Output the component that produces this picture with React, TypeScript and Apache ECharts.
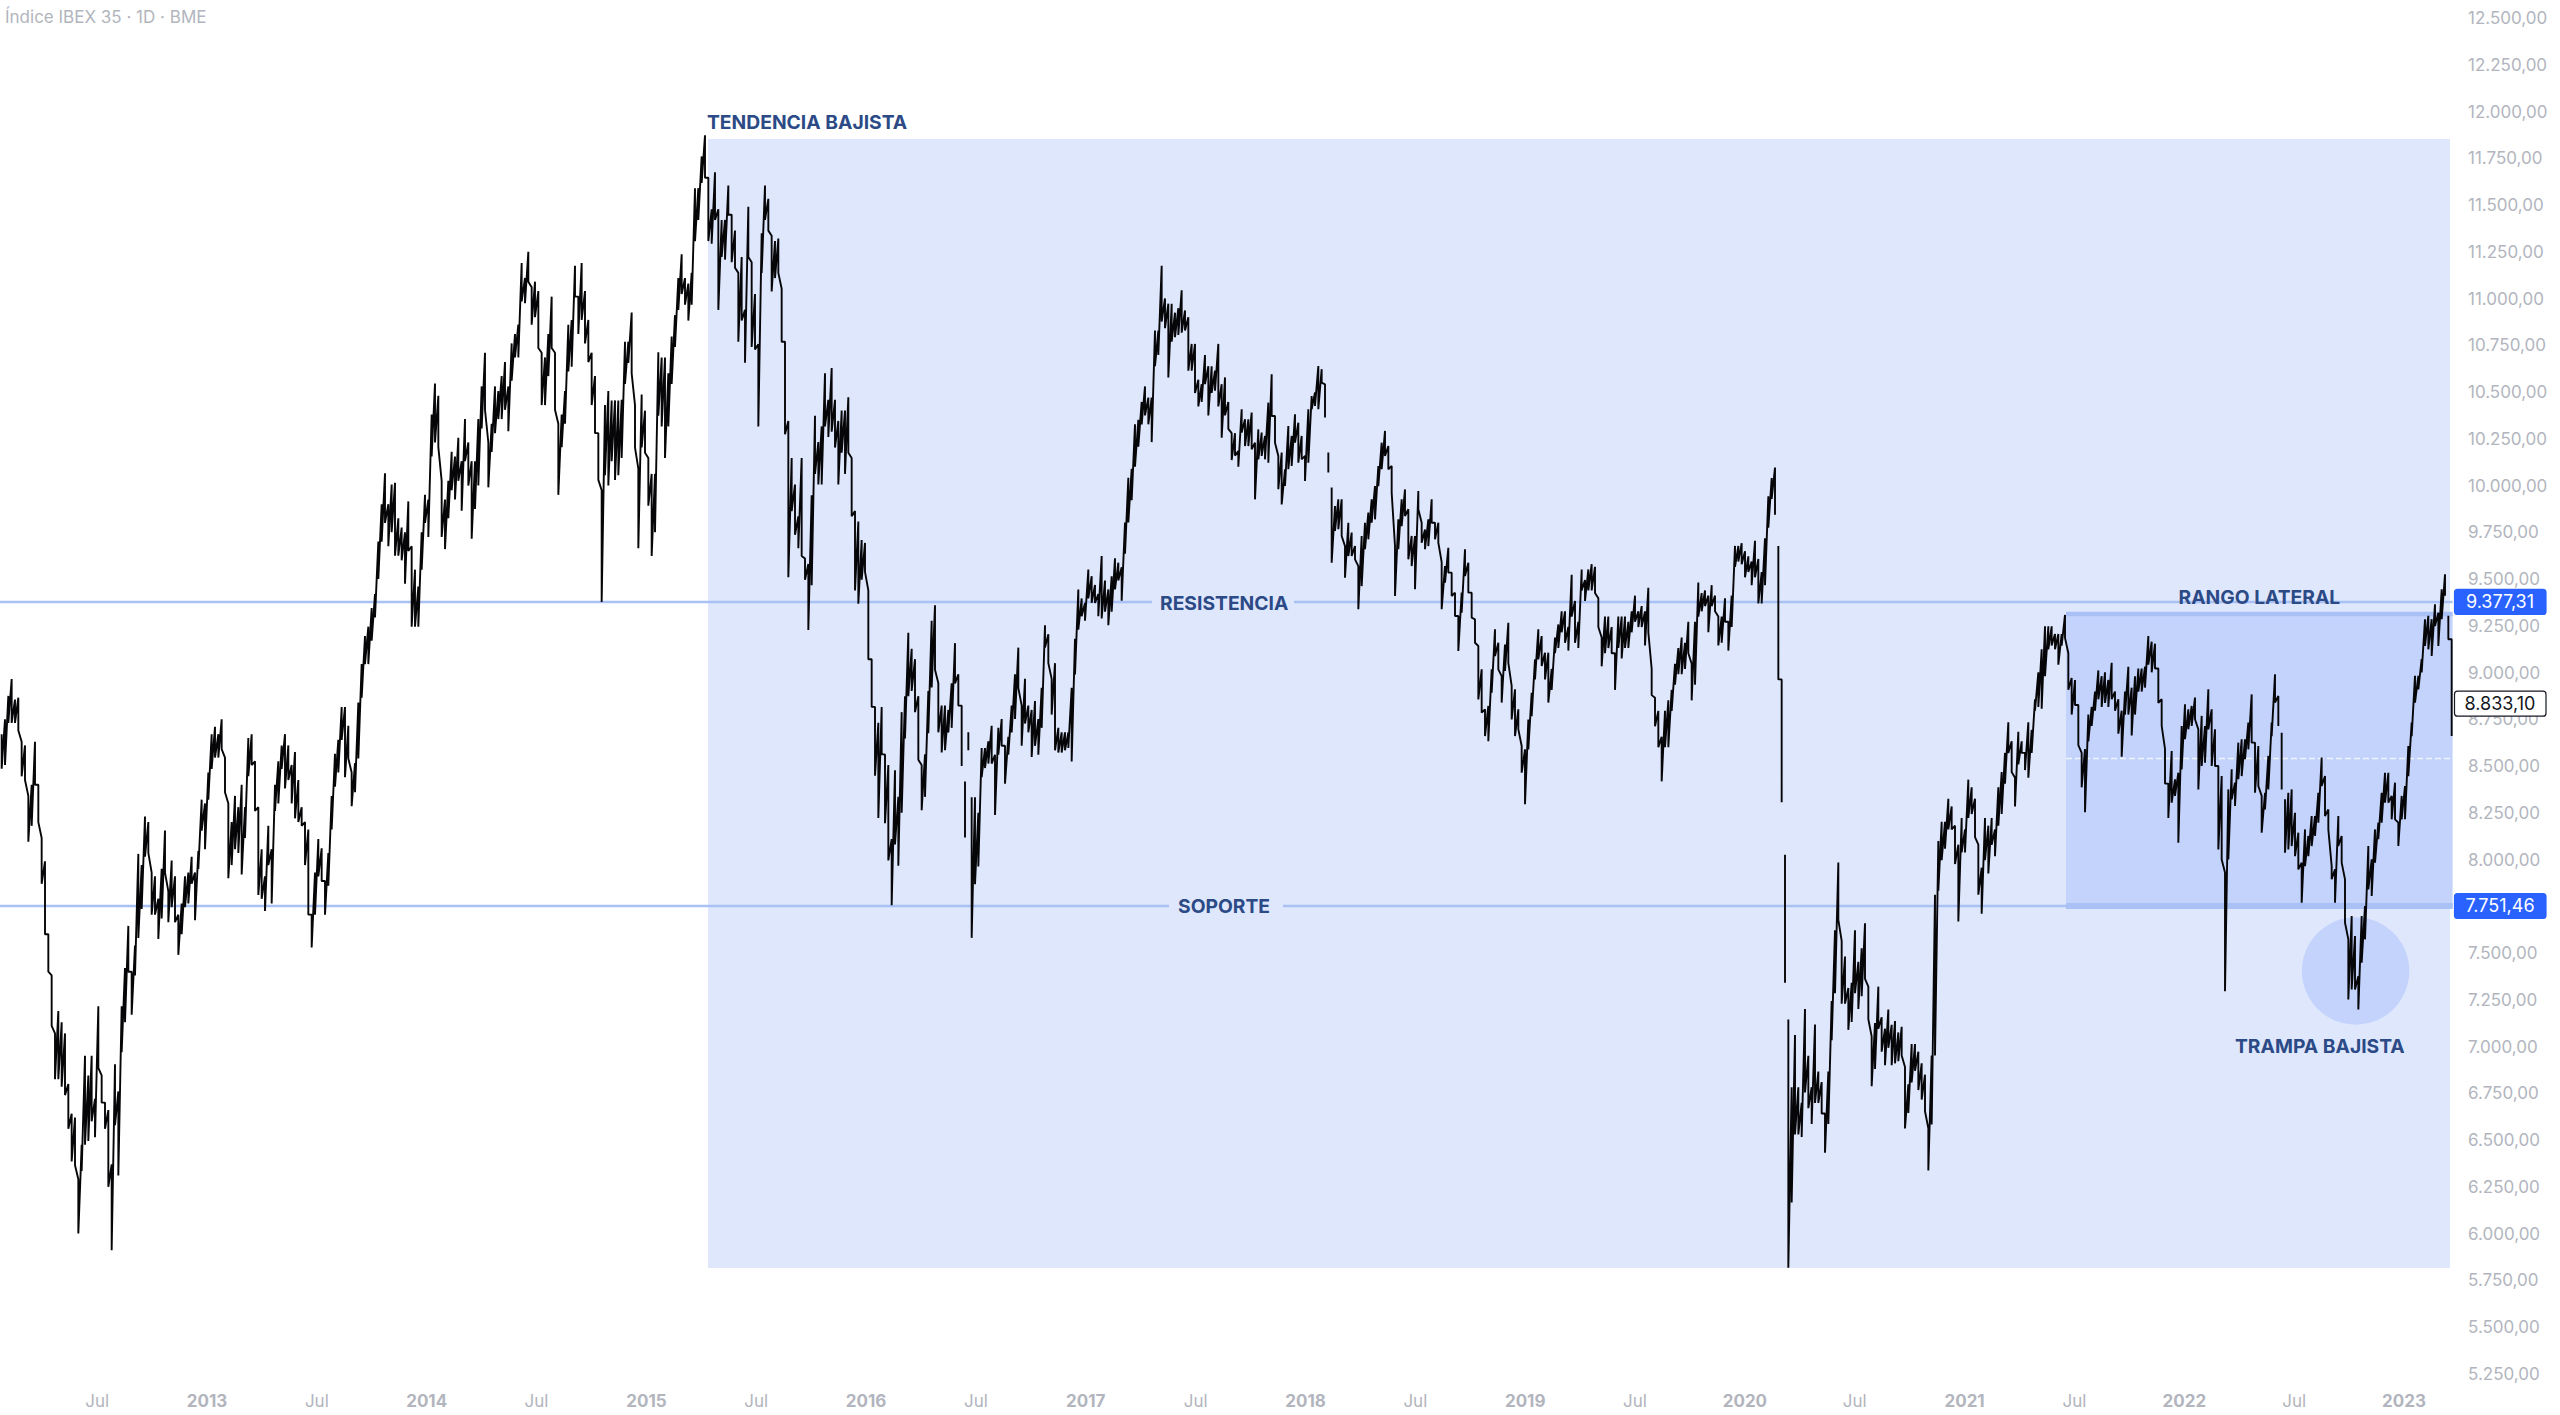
import React, { useEffect, useRef } from "react";
import * as echarts from "echarts";

// Sesiones muestreadas en tramos consecutivos: pares máximo, mínimo. null = hueco en el gráfico.
const tramo1 = [8670,8485,8750,8505,8875,8730,8965,8730,8855,8730,8865,8690,8630,8445,8610,8425,8340,8095,8400,8180,8630,8400,8400,8200,8115,7870,7990,7600,7600,7400,7380,7110,7070,6825,7190,6825,7130,6785,7070,6740,6800,6560,6640,6385,6620,6365,6290,6000,6475,6335,6950,6475,6845,6495,6950,6600,6720,6515,7215,6885,6845,6700,6700,6560,6660,6250,6370,5910,6905,6580,6760,6310,7215,6970,7420,7130,7645,7400,7400,7170,7540,7380,8030,7580,7970,7735,8230,8015,8200,8035,7930,7705,7910,7705,7790,7575,7950,7685,8155,7930,7830,7665,7995,7745,7910,7665,7705,7490,7765,7600,7910,7745,7930,7765,8015,7870,7930,7675,8045,7950,8320,8155,8300,8055,8465,8320,8670,8485,8710,8545,8670,8545,8750,8590,8545,8360,8300,7900,8200,7970,8340,8055,8280,8035,8400,7920,8280,8115,8650,8445,8670,8505,8525,8260,8280,7810,8055,7790,7910,7725,8180,7970,8055,7765,8400,8260,8525,8300,8610,8485,8670,8380,8610,8425,8505,8300,8575,8220,8425,8200,8280,8180,8200,7970,8160,7705];
const tramo2 = [7705,7530,7930,7705,8110,7910,8060,7885,7885,7705,8035,7860,8340,8160,8565,8390,8640,8465,8815,8640,8815,8440,8715,8540,8465,8285,8515,8360,8840,8540,9045,8865,9195,9045,9245,9045,9345,9170,9420,9295,9700,9500,9900,9700,10065,9800,9900,9675,10005,9750,10015,9625,9825,9625,9775,9600,9750,9475,9915,9650,9675,9245,9550,9245,9460,9245,9750,9550,9950,9800,9925,9725,10380,10155,10545,10230,10480,10205,10025,9725,9925,9660,10025,9825,10180,9975,10155,9925,10255,10025,10130,9865,10355,10130,10230,10000,10130,9715,10130,9875,10355,10000,10530,10305,10710,10405,10230,9990,10330,10180,10530,10280,10505,10355,10585,10355,10660,10405,10530,10290,10760,10560,10810,10685,10860,10685,11190,10985,11110,10975,11250,11090,11060,10860,11090,10900,11040,10735,10710,10430,10685,10430,10810,10585,11010,10735,10710,10405,10330,9950,10380,10205,10505,10330,10860,10610,10885,10635,11175,11010,11010,10810,11190,10885,11040,10760,10885,10660,10710,10430,10585,10280,10280,10030,9975,9377,10430,10055,10505,10000,10455,10130,10455,10030,10455,10055];
const tramo3 = [10458,10147,10769,10543,10769,10656,10925,10600,10430,10203,10090,9665,10486,10203,10400,10175,10147,9892,10062,9623,10062,9750,10712,10373,10684,10316,10684,10147,10600,10316,10797,10543,10911,10741,11109,10939,11236,11024,11109,10967,11080,10882,11137,10967,11590,11307,11590,11420,11760,11618,11873,11646,11646,11307,11477,11293,11675,11420,11477,10939,11420,11222,11420,11208,11604,11448,11448,11194,11363,11165,11137,10769,11222,10882,10939,10656,11491,11222,11194,10741,11024,10727,10755,10316,11349,11137,11604,11420,11533,11363,11335,11038,11307,11109,11321,11137,11052,10769,10769,10274,10345,9510,10147,9863,10005,9736,9835,9665,10147,9623,9609,9496,9580,9227,9948,9467,10373,10062,10232,10005,10316,10005,10600,10316,10458,10260,10628,10288,10458,10203,10345,10005,10401,10175,10401,10062,10472,10175,10147,9835,9863,9439,9807,9368,9708,9496,9693,9538,9439,9071,9071,8816,8816,8448,8731,8222,8816,8562,8562,8194,8505,7995,8109,7755,8477,8080,8335,7967,8788,8250,8873,8647,9213,8873,9127,8901,9071,8788,8873,8533,8505,8264,8562,8335,8901,8675];
const tramo4 = [9277,8920,9360,9015,8942,8680,8823,8572,8823,8584,8800,8680,8942,8704,9157,8942,8990,8823,8823,8500,null,8417,8118,null,8680,8584,null,8333,7581,8333,7868,8250,7963,8596,8441,8596,8489,8632,8513,8715,8513,8560,8238,8704,8560,8751,8608,8608,8405,8656,8560,8823,8680,8990,8751,9133,8918,8823,8608,8966,8727,8823,8680,8800,8548,8847,8608,8751,8560,8918,8704,9253,9133,9205,9050,8966,8775,9050,8584,8704,8572,8680,8572,8680,8584,8680,8596,8918,8524,9181,8990,9444,9229,9396,9301,9372,9277,9551,9396,9515,9372,9468,9372,9420,9301,9623,9289,9492,9325,9444,9253,9515,9325,9611,9444,9587,9492,9563,9384,9802,9635,10041,9802,10089,9921,10327,10100,10351,10208,10447,10327,10530,10375,10470,10327,10470,10232,10829,10638,10829,10698,11175,10877,11000,10841,10972,10578,10972,10769,10924,10793,10948,10805,11044,10817,10936,10829,10900,10614,10757,10614,10757,10495,10566,10423,10542,10447,10698,10542,10638,10375,10638,10495,10614,10507,10757,10423,10542,10256,10578,10375,10447,10303,10280,10136,10280,10160,10184,10100];
const tramo5 = [10408,10283,10354,10211,10354,10211,10390,10194,10229,9926,10300,10140,10283,10158,10265,10140,10443,10122,10595,10372,10372,10229,10158,9980,10176,9899,10087,9997,10318,10087,10265,10104,10381,10229,10336,10122,10265,10140,10158,10024,10408,10122,10479,10408,10497,10425,10639,10408,10622,10550,10541,10363,null,10176,10069,null,9989,9587,9890,9757,9926,9766,9926,9730,9676,9507,9801,9623,9748,9623,9676,9605,9569,9338,9730,9462,9801,9659,9855,9712,9926,9801,9997,9819,10104,9997,10229,10087,10292,10158,10211,10087,10104,9962,9676,9409,9819,9659,9926,9783,9979,9837,9873,9605,9730,9569,9730,9445,9971,9873,9801,9694,9765,9659,9819,9676,9926,9801,9801,9712,9801,9694,9590,9338,9569,9480,9667,9534,9534,9409,9427,9302,9302,9115,9427,9320,9659,9516,9587,9427,9427,9293,9284,9159,9142,8856,9017,8785,8803,8660,8821,8633,9017,8892,9231,9088,9159,9017,8981,8839,9150,9008,9266,9052,8928,8749,8910,8660,8803,8696,8607,8464,8589,8295,8749,8589,8892,8767,9070,8963,9231,9070,9195,9035,9106,8963,9106,8839];
const tramo6 = [9019,8907,9187,9103,9257,9131,9327,9215,9327,9159,9243,9117,9523,9299,9383,9159,9271,9131,9551,9439,9495,9383,9551,9439,9579,9439,9565,9425,9397,9243,9187,9033,9299,9103,9299,9131,9243,9103,9103,8907,9299,9131,9299,9075,9299,9131,9271,9131,9327,9215,9411,9271,9327,9243,9355,9243,9327,9145,9453,9215,9019,8879,8865,8712,8795,8600,8656,8418,8795,8600,8851,8600,8907,8795,9047,8935,9131,8991,9187,8991,9159,9019,9271,9103,9047,8851,9271,8935,9481,9299,9425,9327,9439,9355,9411,9215,9467,9355,9411,9327,9299,9145,9299,9159,9397,9271,9271,9117,9411,9243,9677,9565,9677,9593,9691,9579,9649,9509,9621,9537,9593,9467,9704,9509,9607,9369,9537,9369,9718,9467,9942,9774,10040,9928,10096,9844,null,9676,8963,8963,8306,null,8026,7341,null,7145,5817,6782,6166,7061,6530,6782,6530,6698,6516,7201,6754,6950,6670,6782,6586,7117,6698,6866,6698,6810,6642,6642,6432,6866,6586,7243,7033,7621,7285,7984,7677,7565,7229,7481,7229,7313,7089,7341,7131,7621,7285,7453,7201];
const tramo7 = [7525,7269,7659,7362,7320,7146,7054,6788,7126,6880,7320,7095,7157,6972,7095,6900,7198,6993,7116,6900,7136,6910,7075,6921,7105,6952,6890,6562,6798,6644,7013,6808,7013,6870,6972,6767,6910,6716,6849,6654,6562,6337,6952,6583,7812,6952,8099,7833,8202,7997,8202,8058,8325,8161,8284,8161,8181,7976,8079,7669,8222,8038,8161,8038,8427,8222,8386,8243,8325,8120,8079,7812,7956,7710,8222,7997,8181,7925,8222,8079,8161,8017,8386,8181,8468,8243,8570,8406,8734,8570,8632,8468,8437,8284,8683,8509,8632,8570,8570,8478,8734,8437,8693,8570,8857,8796,9001,8816,9124,8806,9247,8980,9247,9124,9247,9144,9206,9124,9206,9042,9206,9144,9308,9185,9103,8908,8970,8775,8960,8826,8826,8611,8570,8386,8591,8253,8775,8632,8816,8714,8898,8796,9011,8857,8980,8816,9001,8837,8960,8816,9052,8857,8898,8796,8857,8673,8796,8550,8898,8775,9031,8775,8919,8663,8980,8775,9021,8898,9021,8898,9031,8919,9195,9042,9165,9001,9154,9021,9021,8837,8857,8714,8591,8406,8406,8222];
const tramo8 = [8580,8304,8429,8340,8464,8090,8714,8482,8830,8643,8803,8696,8821,8714,8866,8750,8696,8375,8768,8500,8714,8518,8910,8696,8803,8500,8696,8500,8500,8054,8446,8000,7930,7296,8375,8000,8482,8322,8411,8286,8625,8429,8643,8446,8643,8536,8732,8589,8883,8625,8625,8357,8607,8393,8340,8143,8357,8268,8554,8375,8732,8660,8990,8839,8875,8714,null,8678,8375,null,8322,8036,8357,8054,8375,8072,8250,8018,8143,7947,7983,7769,8161,7965,8126,8018,8232,8072,8232,8126,8357,8197,8545,8393,8446,8232,8268,8161,7965,7894,7947,7769,8232,8072,8126,7983,7894,7662,7573,7252,7698,7305,7591,7305,7376,7198,7698,7448,7751,7573,8072,7840,8001,7805,8161,7983,8197,8108,8357,8197,8464,8304,8464,8304,8340,8215,8411,8215,8197,8072,8340,8215,8393,8215,8607,8446,8732,8660,8982,8839,8982,8910,9071,9000,9285,9142,9303,9124,9285,9088,9365,9249,9320,9142,9445,9285,9525,9410,null,9303,9178,9178,8660];

const tramos = [tramo1, tramo2, tramo3, tramo4, tramo5, tramo6, tramo7, tramo8];
const firstYear = 2012.0578;
const tramoYears = 1.41102;
const samplesPerTramo = 93;

const yLabelsMin = 5250;
const yLabelsMax = 12500;
const yStep = 250;

const resistance = 9377.31;
const support = 7751.46;
const lastClose = 8833.1;
const rangeTop = 9313;
const rangeBottom = 7752;
const rangeMid = 8540;
const trendTop = 11853;
const trendBottom = 5816;
const trendStart = 2015.2804;
const rangeStart = 2021.4615;
const chartEnd = 2023.2094;
const priceEnd = 2023.2212;
const lineStart = 2012.0;
const resistGap = [2017.3012, 2017.9476];
const supportGap = [2017.3787, 2017.8976];
const trapCentre = [2022.7797, 7404];

const labelBlue = "#2b4a86";
const axisGrey = "#b2b5be";
const lineBlue = "#a9c1f5";

function fmt(v: number): string {
  const [i, d] = v.toFixed(2).split(".");
  return i.replace(/\B(?=(\d{3})+(?!\d))/g, ".") + "," + d;
}

function buildPrices(): any[] {
  const out: any[] = [];
  tramos.forEach((t, k) => {
    let n = 0;
    t.forEach((v) => {
      const slot = Math.floor(n / 2);
      const x = firstYear + tramoYears * (k + (slot + 0.5) / samplesPerTramo);
      if (v === null) {
        out.push([x, null]);
        return;
      }
      out.push([x, v]);
      n++;
    });
  });
  return out;
}

function hLine(points: number[][], color: string, width: number, z: number, type: string = "solid") {
  return {
    type: "line",
    data: points,
    showSymbol: false,
    symbol: "none",
    silent: true,
    z,
    lineStyle: { color, width, type },
  };
}

export default function App() {
  const ref = useRef<HTMLDivElement>(null);
  useEffect(() => {
    const chart = echarts.init(ref.current!, undefined, { renderer: "svg" });
    const option: any = {
      animation: false,
      backgroundColor: "#ffffff",
      textStyle: { fontFamily: "Inter" },
      grid: { left: -12.7, top: 18, width: 2472.7, height: 1355.75, outerBoundsMode: "none", containLabel: false },
      xAxis: {
        type: "value",
        min: 2012,
        max: 2023.2549,
        interval: 0.5,
        splitLine: { show: false },
        axisLine: { show: false },
        axisTick: { show: false },
        axisLabel: {
          margin: 19,
          showMinLabel: false,
          showMaxLabel: false,
          hideOverlap: false,
          formatter: (v: number) => {
            const f = v % 1;
            if (Math.abs(f) < 1e-6) return v === 2012 ? "" : `{y|${Math.round(v)}}`;
            if (Math.abs(f - 0.5) < 1e-6) return "{m|Jul}";
            return "";
          },
          rich: {
            y: { fontFamily: "Inter", fontSize: 17, fontWeight: 700, color: axisGrey },
            m: { fontFamily: "Inter", fontSize: 17, fontWeight: 400, color: axisGrey },
          },
        },
      },
      yAxis: {
        type: "value",
        position: "right",
        min: yLabelsMin,
        max: yLabelsMax,
        interval: yStep,
        splitLine: { show: false },
        axisLine: { show: false },
        axisTick: { show: false },
        axisLabel: {
          margin: 8,
          fontFamily: "Inter",
          fontSize: 17,
          color: axisGrey,
          formatter: (v: number) => fmt(v),
        },
      },
      series: [
        {
          type: "line",
          data: [],
          silent: true,
          z: 1,
          markArea: {
            silent: true,
            itemStyle: { color: "#dfe7fd" },
            data: [[{ xAxis: trendStart, yAxis: trendTop }, { xAxis: chartEnd, yAxis: trendBottom }]],
          },
        },
        {
          type: "line",
          data: [],
          silent: true,
          z: 2,
          markArea: {
            silent: true,
            itemStyle: { color: "#c3d3fb" },
            data: [[{ xAxis: rangeStart, yAxis: rangeTop }, { xAxis: priceEnd, yAxis: rangeBottom }]],
          },
        },
        {
          type: "scatter",
          data: [trapCentre],
          symbol: "circle",
          symbolSize: 107.5,
          silent: true,
          z: 2,
          itemStyle: { color: "#c3d3fb", opacity: 1 },
        },
        hLine([[rangeStart, rangeTop], [priceEnd, rangeTop]], "#a9c1f7", 4.5, 3),
        hLine([[rangeStart, rangeBottom], [priceEnd, rangeBottom]], "#a9c1f7", 6, 3),
        hLine([[rangeStart, rangeMid], [priceEnd, rangeMid]], "rgba(255,255,255,0.75)", 1.5, 3, "dashed"),
        hLine([[lineStart, resistance], [resistGap[0], resistance]], lineBlue, 2.6, 3),
        hLine([[resistGap[1], resistance], [priceEnd, resistance]], lineBlue, 2.6, 3),
        hLine([[lineStart, support], [supportGap[0], support]], lineBlue, 2.6, 3),
        hLine([[supportGap[1], support], [priceEnd, support]], lineBlue, 2.6, 3),
        {
          type: "line",
          data: buildPrices(),
          showSymbol: false,
          symbol: "none",
          silent: true,
          connectNulls: false,
          z: 10,
          lineStyle: { color: "#060608", width: 1.9, join: "bevel" },
        },
      ],
    };
    chart.setOption(option);

    const yOf = (v: number) => chart.convertToPixel({ yAxisIndex: 0 }, v) as number;
    const note = (text: string, x: number, y: number) => ({
      type: "text",
      z: 50,
      style: {
        text,
        x,
        y,
        fill: labelBlue,
        font: "700 19.3px Inter",
        textAlign: "left",
        textVerticalAlign: "middle",
      },
    });
    const tag = (v: number, fill: string, stroke: string, textFill: string) => [
      {
        type: "rect",
        z: 60,
        shape: { x: 2454.5, y: yOf(v) - 12.5, width: 91.5, height: 25, r: 3 },
        style: { fill, stroke, lineWidth: 1.2 },
      },
      {
        type: "text",
        z: 61,
        style: {
          text: fmt(v),
          x: 2500,
          y: yOf(v),
          fill: textFill,
          font: "400 18px Inter",
          textAlign: "center",
          textVerticalAlign: "middle",
        },
      },
    ];
    chart.setOption({
      graphic: [
        {
          type: "text",
          z: 50,
          style: {
            text: "Índice IBEX 35 · 1D · BME",
            x: 5,
            y: 17,
            fill: axisGrey,
            font: "400 17px Inter",
            textAlign: "left",
            textVerticalAlign: "middle",
          },
        },
        note("TENDENCIA BAJISTA", 707, 121.5),
        note("RESISTENCIA", 1160, 603),
        note("SOPORTE", 1178, 906),
        note("RANGO LATERAL", 2178.5, 597),
        note("TRAMPA BAJISTA", 2235, 1045.5),
        ...tag(resistance, "#2962ff", "#2962ff", "#ffffff"),
        ...tag(support, "#2962ff", "#2962ff", "#ffffff"),
        ...tag(lastClose, "#ffffff", "#131722", "#131722"),
      ],
    });
    return () => chart.dispose();
  }, []);
  return <div ref={ref} style={{ position: "fixed", left: 0, top: 0, width: 2560, height: 1415 }} />;
}
